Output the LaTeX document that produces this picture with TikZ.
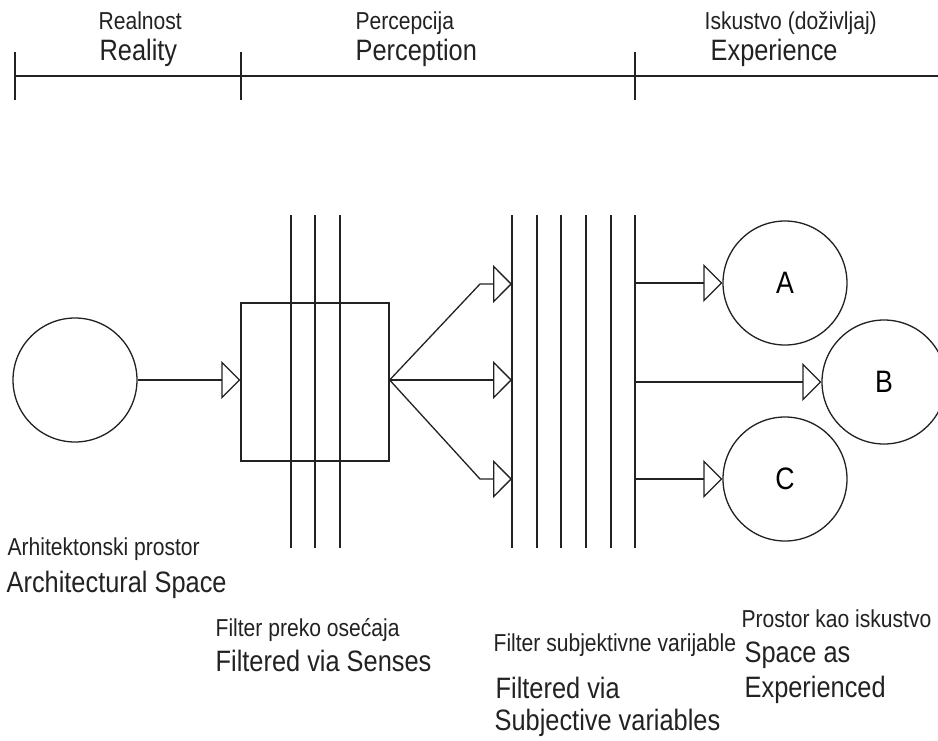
\documentclass[tikz,border=0pt]{standalone}
\usepackage{fontspec}
\setmainfont{Liberation Sans}[FakeStretch=0.86]
\usetikzlibrary{arrows.meta}
\definecolor{ink}{HTML}{222222}
\begin{document}
\begin{tikzpicture}[x=1pt,y=-1pt,
  line width=1.3pt, draw=ink,
  tip/.style={-{Triangle[open,length=19pt,width=38pt,line width=1.3pt]}},
  ring/.style={circle,draw=ink,minimum size=124pt,inner sep=0pt,font=\fontsize{31}{31}\selectfont},
  small/.style={anchor=base west,inner sep=0pt,font=\fontsize{24.5}{24.5}\selectfont,text=ink},
  big/.style={anchor=base west,inner sep=0pt,font=\fontsize{29.5}{29.5}\selectfont,text=ink}]
\useasboundingbox (0,0) rectangle (938,740);
\fill[white] (0,0) rectangle (938,740);
% timeline
\coordinate (t0) at (15,76);
\coordinate (tE) at (938,76);
\draw (t0) -- (tE);
\foreach \x in {15,241,635} \draw (\x,52) -- (\x,100);
\node[small] (l1a) at (98,29) {Realnost};
\node[big] (l1b) at (99,60) {Reality};
\node[small] (l2a) at (355,29) {Percepcija};
\node[big] (l2b) at (355,60) {Perception};
\node[small] (l3a) at (704,29) {Iskustvo (doživljaj)};
\node[big] (l3b) at (710,60) {Experience};
% filter lines
\foreach \x in {291,315,340,512,537,561,586,611,635} \draw (\x,215) -- (\x,548);
% nodes
\node[ring] (src) at (75,380) {};
\node[draw=ink,minimum width=148pt,minimum height=158pt,inner sep=0pt] (sq) at (315,382) {};
\node[ring] (A) at (785,283) {A};
\node[ring] (B) at (884,382) {B};
\node[ring] (C) at (785,479) {C};
% arrows
\draw[tip] (src.east) -- (sq.west |- src.east);
\coordinate (f1) at (512,284);
\coordinate (f2) at (512,380);
\coordinate (f3) at (512,479);
\draw[tip] (sq.east |- f2) -- (480,284) -- (f1);
\draw[tip] (sq.east |- f2) -- (f2);
\draw[tip] (sq.east |- f2) -- (480,479) -- (f3);
\draw[tip] (635,283) -- (A.west);
\draw[tip] (635,382) -- (B.west);
\draw[tip] (635,479) -- (C.west);
% bottom labels
\node[small] (b1a) at (7,555) {Arhitektonski prostor};
\node[big] (b1b) at (6,592) {Architectural Space};
\node[small] (b2a) at (215,636) {Filter preko osećaja};
\node[big] (b2b) at (215,671) {Filtered via Senses};
\node[small] (b3a) at (493,651) {Filter subjektivne varijable};
\node[big] (b3b) at (495,698) {Filtered via};
\node[big] (b3c) at (494,730) {Subjective variables};
\node[small] (b4a) at (741,627) {Prostor kao iskustvo};
\node[big] (b4b) at (744,662) {Space as};
\node[big] (b4c) at (744,697) {Experienced};
\end{tikzpicture}
\end{document}
